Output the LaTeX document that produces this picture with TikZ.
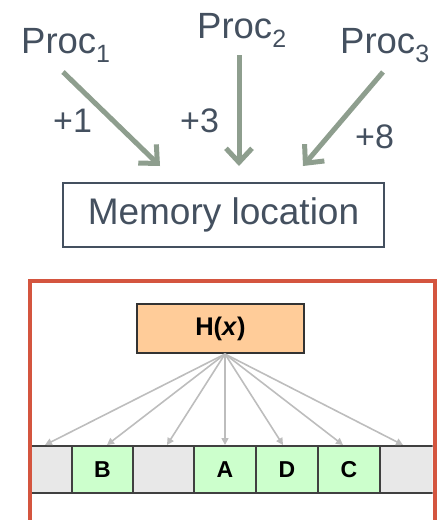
\documentclass[tikz,border=0pt]{standalone}
\usepackage{fontspec}
\setmainfont{Liberation Sans}
\usetikzlibrary{arrows.meta}

\definecolor{slate}{HTML}{44505F}
\definecolor{sage}{HTML}{8E9E8E}
\definecolor{framered}{HTML}{D4553F}
\definecolor{hashfill}{HTML}{FFCC99}
\definecolor{slotgray}{HTML}{E8E8E8}
\definecolor{slotgreen}{HTML}{CCFFCC}
\definecolor{probe}{HTML}{BDBDBD}

\tikzset{
  proc/.style={anchor=base west, inner sep=0pt, text=slate, font=\fontsize{36.5}{42}\selectfont},
  inc/.style={anchor=base west, inner sep=0pt, text=slate, font=\fontsize{34}{38}\selectfont},
  update/.style={draw=sage, line width=5pt, -{Straight Barb[length=14pt,width=26pt,line width=5pt]}},
  membox/.style={draw=slate, line width=1.5pt, text=slate, minimum width=321pt, minimum height=64pt,
                 inner sep=0pt, font=\fontsize{37}{42}\selectfont},
  hashbox/.style={draw=black!80, fill=hashfill, line width=2pt, minimum width=167pt, minimum height=49pt,
                  inner sep=0pt, font=\fontsize{25.5}{30}\selectfont\bfseries},
  slot/.style={draw=black!75, line width=1.5pt, minimum height=47pt, inner sep=0pt,
               font=\fontsize{23}{27}\selectfont\bfseries},
  empty/.style={slot, fill=slotgray},
  full/.style={slot, fill=slotgreen},
  hasharrow/.style={draw=probe, line width=1.6pt, -{Triangle[length=7pt,width=7pt]}},
}

\begin{document}
\begin{tikzpicture}[x=1pt, y=-1pt]
\useasboundingbox (0,0) rectangle (440,520);
\clip (0,0) rectangle (440,520);

% processors writing to one memory location
\node[proc] (p1) at (21,53) {Proc\raisebox{-9pt}{\fontsize{25}{28}\selectfont 1}};
\node[proc] (p2) at (197,38) {Proc\raisebox{-9pt}{\fontsize{25}{28}\selectfont 2}};
\node[proc] (p3) at (340,53) {Proc\raisebox{-9pt}{\fontsize{25}{28}\selectfont 3}};

\node[membox] (mem) at (223.5,215) {Memory location};

\coordinate (a1s) at (63,72);   \coordinate (a1e) at (160,166);
\coordinate (a2s) at (239,55);  \coordinate (a2e) at (239,166);
\coordinate (a3s) at (383,72);  \coordinate (a3e) at (303,166);
\draw[update] (a1s) -- (a1e);
\draw[update] (a2s) -- (a2e);
\draw[update] (a3s) -- (a3e);

\node[inc] (i1) at (53,132) {+1};
\node[inc] (i2) at (180,132) {+3};
\node[inc] (i3) at (355,148) {+8};

% hash table panel
\draw[framered, line width=4pt] (30,281) rectangle (434.5,540);

\begin{scope}
\clip (32,283) rectangle (432.5,540);
\node[empty, minimum width=62pt] (s0) at (41,469.5) {};
\node[full,  minimum width=61pt] (s1) at (102.5,469.5) {B};
\node[empty, minimum width=61pt] (s2) at (163.5,469.5) {};
\node[full,  minimum width=62pt] (s3) at (225,469.5) {A};
\node[full,  minimum width=62pt] (s4) at (287,469.5) {D};
\node[full,  minimum width=62pt] (s5) at (349,469.5) {C};
\node[empty, minimum width=62pt] (s6) at (411,469.5) {};
\end{scope}

\node[hashbox] (h) at (220.5,328.5) {H(\textit{x})};
\coordinate (src) at (225,354);

\coordinate (t0) at (45,445);
\coordinate (t1) at (107,445);
\coordinate (t2) at (167,445);
\coordinate (t3) at (225,445);
\coordinate (t4) at (283,445);
\coordinate (t5) at (343,445);
\coordinate (t6) at (403,445);
\foreach \t in {t0,t1,t2,t3,t4,t5,t6}
  \draw[hasharrow] (src) -- (\t);
\end{tikzpicture}
\end{document}
